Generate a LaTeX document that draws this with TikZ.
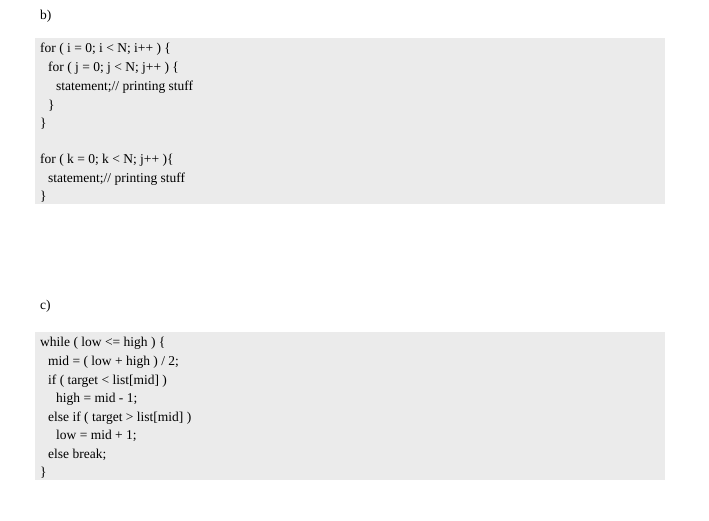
\documentclass[tikz,border=0pt]{standalone}
\usepackage{fontspec}
\setmainfont{Liberation Serif}
\begin{document}
\begin{tikzpicture}[x=1pt,y=-1pt,
  codeline/.style={anchor=base west,inner sep=0pt,font=\fontsize{13.5}{15}\selectfont},
  codebox/.style={fill=black!8,draw=none}]
\useasboundingbox (0,0) rectangle (709,520);
\fill[codebox] (35,38) rectangle (665,204);
\fill[codebox] (35,332) rectangle (665,480);
\node[codeline] (lb) at (40,19) {b)};
\node[codeline] (b1) at (40,52) {for ( i = 0; i < N; i++ ) \{};
\node[codeline] (b2) at (48,71) {for ( j = 0; j < N; j++ ) \{};
\node[codeline] (b3) at (56,90) {statement;// printing stuff};
\node[codeline] (b4) at (48,109) {\}};
\node[codeline] (b5) at (40,127) {\}};
\node[codeline] (b6) at (40,163) {for ( k = 0; k < N; j++ )\{};
\node[codeline] (b7) at (48,182) {statement;// printing stuff};
\node[codeline] (b8) at (40,200) {\}};
\node[codeline] (lc) at (40,309) {c)};
\node[codeline] (c1) at (40,346) {while ( low <= high ) \{};
\node[codeline] (c2) at (48,365) {mid = ( low + high ) / 2;};
\node[codeline] (c3) at (48,384) {if ( target < list[mid] )};
\node[codeline] (c4) at (56,402) {high = mid - 1;};
\node[codeline] (c5) at (48,421) {else if ( target > list[mid] )};
\node[codeline] (c6) at (56,439) {low = mid + 1;};
\node[codeline] (c7) at (48,458) {else break;};
\node[codeline] (c8) at (40,476) {\}};
\end{tikzpicture}
\end{document}
